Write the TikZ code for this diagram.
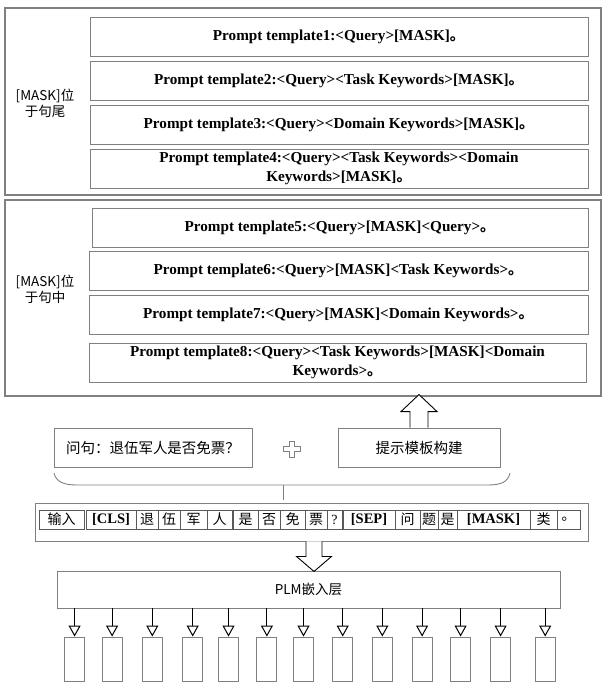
\documentclass[tikz,border=0pt]{standalone}
\usepackage{fontspec}
\setmainfont{Liberation Serif}
\newfontfamily\cjk{Noto Sans CJK SC}
\usetikzlibrary{calc,arrows.meta}
\definecolor{boxgray}{gray}{0.5}
\definecolor{tokgray}{gray}{0.35}
\begin{document}
\begin{tikzpicture}[x=1pt,y=-1pt,
  outer/.style={draw=boxgray, line width=1.1pt, inner sep=0pt},
  tmpl/.style={draw=boxgray, line width=0.9pt, inner sep=0pt, minimum height=39pt, align=center, font=\fontsize{15.2}{19}\selectfont\bfseries},
  lbl/.style={align=center, inner sep=0pt, font=\cjk\fontsize{13.5}{16}\selectfont},
  cbox/.style={draw=boxgray, line width=0.9pt, inner sep=0pt, minimum height=39pt, font=\cjk\fontsize{14.5}{17}\selectfont},
  tokcell/.style={draw=tokgray, line width=0.8pt, inner sep=0pt, minimum height=19pt, font=\fontsize{14}{16}\selectfont},
  cj/.style={font=\cjk\fontsize{14}{16}\selectfont},
  bt/.style={font=\fontsize{14.5}{16}\selectfont\bfseries},
  hollow/.style={draw=black, line width=0.9pt, fill=white, line join=miter},
  outbox/.style={draw=boxgray, line width=0.9pt, inner sep=0pt, minimum width=20pt, minimum height=44pt},
  outarr/.style={draw=black, line width=1pt, -{Triangle[open, length=11pt, width=12pt]}},
  bracepath/.style={draw=boxgray, line width=0.9pt}
]
\useasboundingbox (0,0) rectangle (603,683);

% group 1
\node[outer, minimum width=596pt, minimum height=187pt] (g1) at (303,101.5) {};
\node[lbl] (l1) at (45,103) {[MASK]位\\于句尾};
\node[tmpl, minimum width=498pt] (p1) at (339,36.5) {Prompt template1:<Query>[MASK]{\cjk 。}};
\node[tmpl, minimum width=498pt] (p2) at (339,80.5) {Prompt template2:<Query><Task Keywords>[MASK]{\cjk 。}};
\node[tmpl, minimum width=498pt] (p3) at (339,125) {Prompt template3:<Query><Domain Keywords>[MASK]{\cjk 。}};
\node[tmpl, minimum width=498pt] (p4) at (339,168.5) {Prompt template4:<Query><Task Keywords><Domain\\Keywords>[MASK]{\cjk 。}};

% group 2
\node[outer, minimum width=596pt, minimum height=196pt] (g2) at (303,298) {};
\node[lbl] (l2) at (45,289) {[MASK]位\\于句中};
\node[tmpl, minimum width=496pt] (p5) at (340,227.5) {Prompt template5:<Query>[MASK]<Query>{\cjk 。}};
\node[tmpl, minimum width=499pt] (p6) at (338.5,270.5) {Prompt template6:<Query>[MASK]<Task Keywords>{\cjk 。}};
\node[tmpl, minimum width=499pt] (p7) at (338.5,314.5) {Prompt template7:<Query>[MASK]<Domain Keywords>{\cjk 。}};
\node[tmpl, minimum width=497pt] (p8) at (337.5,362.5) {Prompt template8:<Query><Task Keywords>[MASK]<Domain\\Keywords>{\cjk 。}};

% question and prompt construction
\node[cbox, minimum width=198pt] (q) at (153,447.5) {问句：退伍军人是否免票？};
\node[cbox, minimum width=162pt] (pb) at (419,447.5) {提示模板构建};
\draw[boxgray, line width=0.8pt, shift={(292,449)}]
  (-8.5,-2.5) -- (-2.5,-2.5) -- (-2.5,-8) -- (2.5,-8) -- (2.5,-2.5) -- (8.5,-2.5) --
  (8.5,2.5) -- (2.5,2.5) -- (2.5,8) -- (-2.5,8) -- (-2.5,2.5) -- (-8.5,2.5) -- cycle;

% up arrow to group 2
\draw[hollow] ($(pb.north)+(-9,0)$) -- ($(pb.north)+(-9,-16)$) -- ($(pb.north)+(-18,-16)$)
  -- ($(pb.north)+(0,-33)$) -- ($(pb.north)+(18,-16)$) -- ($(pb.north)+(9,-16)$) -- ($(pb.north)+(9,0)$);

% token row
\node[draw=boxgray, line width=0.9pt, inner sep=0pt, minimum width=553pt, minimum height=38pt] (tok) at (311.5,522) {};
\node[tokcell, cj, minimum width=45pt] (t1) at (61.5,519.5) {输入};
\node[tokcell, bt, minimum width=50pt] (t2) at (111,519.5) {[CLS]};
\node[tokcell, cj, minimum width=22pt] (t3) at (147,519.5) {退};
\node[tokcell, cj, minimum width=22pt] (t4) at (169,519.5) {伍};
\node[tokcell, cj, minimum width=27pt] (t5) at (193.5,519.5) {军};
\node[tokcell, cj, minimum width=25pt] (t6) at (219.5,519.5) {人};
\node[tokcell, cj, minimum width=25pt] (t7) at (245.5,519.5) {是};
\node[tokcell, cj, minimum width=22pt] (t8) at (269,519.5) {否};
\node[tokcell, cj, minimum width=25pt] (t9) at (292.5,519.5) {免};
\node[tokcell, cj, minimum width=22pt] (t10) at (316,519.5) {票};
\node[tokcell, minimum width=15pt] (t11) at (334.5,519.5) {?};
\node[tokcell, bt, minimum width=52pt] (t12) at (369,519.5) {[SEP]};
\node[tokcell, cj, minimum width=25pt] (t13) at (407.5,519.5) {问};
\node[tokcell, cj, minimum width=18pt] (t14) at (429,519.5) {题};
\node[tokcell, cj, minimum width=19pt] (t15) at (447.5,519.5) {是};
\node[tokcell, bt, minimum width=73pt] (t16) at (493.5,519.5) {[MASK]};
\node[tokcell, cj, minimum width=27pt] (t17) at (543.5,519.5) {类};
\node[tokcell, cj, minimum width=23pt] (t18) at (568.5,519.5) {。};

% brace
\coordinate (bl) at (54,473);
\coordinate (br) at (510,473);
\coordinate (bm) at (283,485);
\draw[bracepath] (bl) .. controls (56,482) and (64,485) .. (77,485) -- (488,485)
  .. controls (501,485) and (508,482) .. (br);
\draw[bracepath, shorten >=3pt] (bm) -- (bm |- tok.north);

% PLM layer
\node[draw=boxgray, line width=0.9pt, inner sep=0pt, minimum width=503pt, minimum height=37pt,
  font=\cjk\fontsize{13.5}{15}\selectfont] (plm) at (308.5,589.5) {PLM嵌入层};

% down arrow
\coordinate (da) at ($(tok.south)+(2.5,0)$);
\draw[hollow] ($(da)+(-8,0)$) -- ($(da)+(-8,15)$) -- ($(da)+(-17.5,15)$) -- ($(da)+(0,30)$)
  -- ($(da)+(17.5,15)$) -- ($(da)+(8,15)$) -- ($(da)+(8,0)$);

% outputs
\foreach \i/\x in {1/74.6,2/112.1,3/152.3,4/192.7,5/228.5,6/266.9,7/303.5,8/342.7,9/382.3,10/422.1,11/460.6,12/500.6,13/545.2} {
  \node[outbox] (r\i) at (\x,659) {};
  \draw[outarr] (plm.south -| r\i.north) -- (r\i.north);
}
\end{tikzpicture}
\end{document}
